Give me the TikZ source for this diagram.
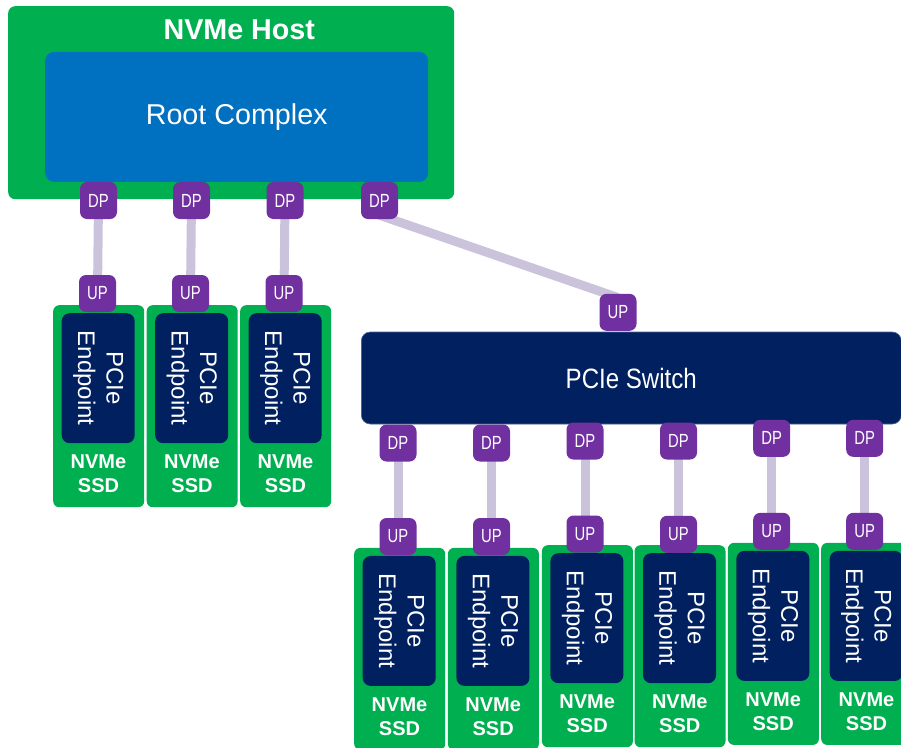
\documentclass[tikz,border=0pt]{standalone}
\usepackage{fontspec}
\usepackage{graphicx}
\setmainfont{Liberation Sans}
\usetikzlibrary{backgrounds}
\definecolor{nvgreen}{RGB}{0,176,80}
\definecolor{rcblue}{RGB}{0,112,192}
\definecolor{navy}{RGB}{0,32,96}
\definecolor{portpurple}{RGB}{112,48,160}
\definecolor{linklav}{RGB}{203,194,220}
\newcommand\narrowtxt[2]{\scalebox{#1}[1]{#2}}
\tikzset{
  hostbox/.style={fill=nvgreen, rounded corners=7pt, anchor=north west, inner sep=0pt,
    minimum width=446pt, minimum height=193pt},
  rootbox/.style={fill=rcblue, rounded corners=9pt, anchor=north west, inner sep=0pt,
    minimum width=383pt, minimum height=130pt, text=white,
    font=\fontsize{28.7}{34}\selectfont},
  switchbox/.style={fill=navy, draw=navy!70!white, line width=0.6pt, rounded corners=9pt,
    anchor=north west, inner sep=0pt, minimum width=540pt, minimum height=92pt,
    text=white, font=\fontsize{28}{34}\selectfont},
  portbox/.style={fill=portpurple, rounded corners=7pt, inner sep=0pt, minimum size=37pt,
    text=white, font=\fontsize{19}{20}\selectfont},
  ssdbox/.style={fill=nvgreen, rounded corners=6pt, anchor=north west, inner sep=0pt,
    minimum width=91pt, minimum height=202pt},
  epbox/.style={fill=navy, rounded corners=8pt, anchor=north west, inner sep=0pt,
    minimum width=73pt, minimum height=130pt},
  eptext/.style={rotate=-90, align=center, text=white, inner sep=0pt,
    font=\fontsize{24}{28.5}\selectfont},
  ssdtext/.style={align=center, text=white, inner sep=0pt,
    font=\fontsize{20}{24.3}\selectfont\bfseries},
  titletext/.style={anchor=base, text=white, inner sep=0pt,
    font=\fontsize{28.7}{34}\selectfont\bfseries},
  link/.style={draw=linklav, line width=9pt}
}
\newcommand\ssd[3]{%
  \node[ssdbox] (#1) at (#2,#3) {};
  \node[epbox] (#1ep) at (#2+8.5,#3+8) {};
  \node[eptext] (#1eptxt) at (#1ep.center) {PCIe\\Endpoint};
  \node[ssdtext] (#1lbl) at (#2+45.5,#3+169) {NVMe\\SSD};
}
\begin{document}
\begin{tikzpicture}[x=1pt, y=-1pt]
\useasboundingbox (0,0) rectangle (901,747);
% host
\node[hostbox] (host) at (8,6) {};
\node[titletext] (hosttitle) at (239.3,39.3) {NVMe Host};
\node[rootbox] (root) at (45,51.7) {Root Complex};
% left SSDs
\ssd{la}{53}{305}
\ssd{lb}{146.5}{305}
\ssd{lc}{240}{305}
% switch
\node[switchbox] (switch) at (361,331.7) {\narrowtxt{0.86}{PCIe Switch}};
% bottom SSDs
\ssd{ba}{354}{547.7}
\ssd{bb}{447.7}{547.7}
\ssd{bc}{541.7}{545}
\ssd{bd}{634.3}{545}
\ssd{be}{727.7}{542.7}
\ssd{bf}{821}{542.7}
% host ports
\node[portbox] (hdp1) at (98.5,200.5) {\narrowtxt{0.78}{DP}};
\node[portbox] (hdp2) at (191.5,200.5) {\narrowtxt{0.78}{DP}};
\node[portbox] (hdp3) at (285,200.5) {\narrowtxt{0.78}{DP}};
\node[portbox] (hdp4) at (379.5,200.5) {\narrowtxt{0.78}{DP}};
\node[portbox] (lup1) at (97.5,293.5) {\narrowtxt{0.78}{UP}};
\node[portbox] (lup2) at (190.5,293.5) {\narrowtxt{0.78}{UP}};
\node[portbox] (lup3) at (284,293.5) {\narrowtxt{0.78}{UP}};
% switch ports
\node[portbox] (sup) at (618,312.3) {\narrowtxt{0.78}{UP}};
\node[portbox] (sdp1) at (398,443) {\narrowtxt{0.78}{DP}};
\node[portbox] (sdp2) at (491.5,443) {\narrowtxt{0.78}{DP}};
\node[portbox] (sdp3) at (585,441) {\narrowtxt{0.78}{DP}};
\node[portbox] (sdp4) at (678.5,441) {\narrowtxt{0.78}{DP}};
\node[portbox] (sdp5) at (771.7,438.3) {\narrowtxt{0.78}{DP}};
\node[portbox] (sdp6) at (864.7,438.3) {\narrowtxt{0.78}{DP}};
\node[portbox] (bup1) at (398,536.5) {\narrowtxt{0.78}{UP}};
\node[portbox] (bup2) at (491.5,536.5) {\narrowtxt{0.78}{UP}};
\node[portbox] (bup3) at (585,534) {\narrowtxt{0.78}{UP}};
\node[portbox] (bup4) at (678.5,534.3) {\narrowtxt{0.78}{UP}};
\node[portbox] (bup5) at (771.7,531.3) {\narrowtxt{0.78}{UP}};
\node[portbox] (bup6) at (864.7,531.3) {\narrowtxt{0.78}{UP}};
% links
\begin{scope}[on background layer]
  \draw[link] (hdp1.center) -- (lup1.center);
  \draw[link] (hdp2.center) -- (lup2.center);
  \draw[link] (hdp3.center) -- (lup3.center);
  \draw[link] ([yshift=4pt]hdp4.south) -- ([yshift=-4pt]sup.north);
  \draw[link] (sdp1.center) -- (bup1.center);
  \draw[link] (sdp2.center) -- (bup2.center);
  \draw[link] (sdp3.center) -- (bup3.center);
  \draw[link] (sdp4.center) -- (bup4.center);
  \draw[link] (sdp5.center) -- (bup5.center);
  \draw[link] (sdp6.center) -- (bup6.center);
\end{scope}
\end{tikzpicture}
\end{document}
